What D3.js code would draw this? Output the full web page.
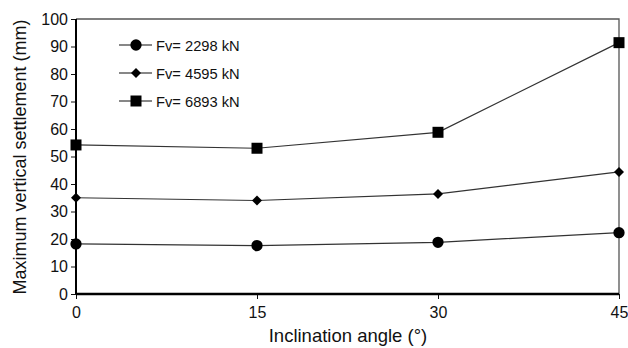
<!DOCTYPE html>
<html>
<head>
<meta charset="utf-8">
<script src="https://d3js.org/d3.v7.min.js"></script>
<style>
  body{margin:0;background:#fff;}
  text{font-family:"Liberation Sans",Arial,sans-serif;fill:#111;}
</style>
</head>
<body>
<div id="chart"></div>
<script>
// data
var angles   = [0, 15, 30, 45];
var fv2298   = [18.2, 17.6, 18.8, 22.3];
var fv4595   = [35.0, 34.0, 36.4, 44.4];
var fv6893   = [54.2, 53.0, 58.8, 91.4];
var seriesNames = ["Fv= 2298 kN", "Fv= 4595 kN", "Fv= 6893 kN"];
var yTicks   = [0,10,20,30,40,50,60,70,80,90,100];

var W = 628, H = 348;
var margin = {top: 19, right: 9, bottom: 54, left: 76};
var width  = W - margin.left - margin.right;
var height = H - margin.top - margin.bottom;

var svg = d3.select("#chart").append("svg")
  .attr("width", W).attr("height", H);
var g = svg.append("g")
  .attr("transform", "translate(" + margin.left + "," + margin.top + ")");

var x = d3.scaleLinear().domain([0,45]).range([0,width]);
var y = d3.scaleLinear().domain([0,100]).range([height,0]);

// frame top/right
g.append("path")
  .attr("d", "M0,0H" + width + "V" + height)
  .attr("fill","none").attr("stroke","#555").attr("stroke-width",1.3);

// axes
var yAxis = g.append("g")
  .call(d3.axisLeft(y).tickValues(yTicks).tickSize(5).tickPadding(3));
var xAxis = g.append("g")
  .attr("transform","translate(0," + height + ")")
  .call(d3.axisBottom(x).tickValues(angles).tickSize(5).tickPadding(8));

[yAxis, xAxis].forEach(function(a){
  a.select(".domain").remove();
  a.selectAll("line").attr("stroke","#111").attr("stroke-width",1);
  a.selectAll("text").style("font-size","16px").attr("fill","#111");
});
g.append("line").attr("x1",0).attr("x2",0).attr("y1",0).attr("y2",height)
  .attr("stroke","#000").attr("stroke-width",2);
g.append("line").attr("x1",0).attr("x2",width).attr("y1",height).attr("y2",height)
  .attr("stroke","#000").attr("stroke-width",2.5);

// axis titles
svg.append("text")
  .attr("x", 348).attr("y", 342)
  .attr("text-anchor","middle").style("font-size","18.5px")
  .text("Inclination angle (°)");
svg.append("text")
  .attr("transform","translate(26,157) rotate(-90)")
  .attr("text-anchor","middle").style("font-size","18px")
  .text("Maximum vertical settlement (mm)");

var symbols = [d3.symbolCircle, d3.symbolSquare, d3.symbolSquare];
var sizes   = [100, 50, 121];
var rotate  = [0, 45, 0];
var allSeries = [fv2298, fv4595, fv6893];

var line = d3.line()
  .x(function(d,i){return x(angles[i]);})
  .y(function(d){return y(d);});

allSeries.forEach(function(s, k){
  g.append("path").datum(s)
    .attr("d", line).attr("fill","none")
    .attr("stroke","#333").attr("stroke-width",1.2);
  g.selectAll(".m" + k).data(s).enter()
    .append("path").attr("class","m" + k)
    .attr("transform", function(d,i){
      return "translate(" + x(angles[i]) + "," + y(d) + ") rotate(" + rotate[k] + ")";
    })
    .attr("d", d3.symbol().type(symbols[k]).size(sizes[k]))
    .attr("fill","#000");
});

// legend
var legendY = [45, 73, 101];
var leg = svg.append("g");
seriesNames.forEach(function(name, k){
  var row = leg.append("g").attr("transform","translate(119," + legendY[k] + ")");
  row.append("line").attr("x1",0).attr("x2",33).attr("y1",0).attr("y2",0)
    .attr("stroke","#111").attr("stroke-width",1.2);
  row.append("path").attr("transform","translate(17,0) rotate(" + rotate[k] + ")")
    .attr("d", d3.symbol().type(symbols[k]).size(sizes[k])).attr("fill","#000");
  row.append("text").attr("x",37).attr("y",5.5)
    .style("font-size","14.7px").text(name);
});
</script>
</body>
</html>
